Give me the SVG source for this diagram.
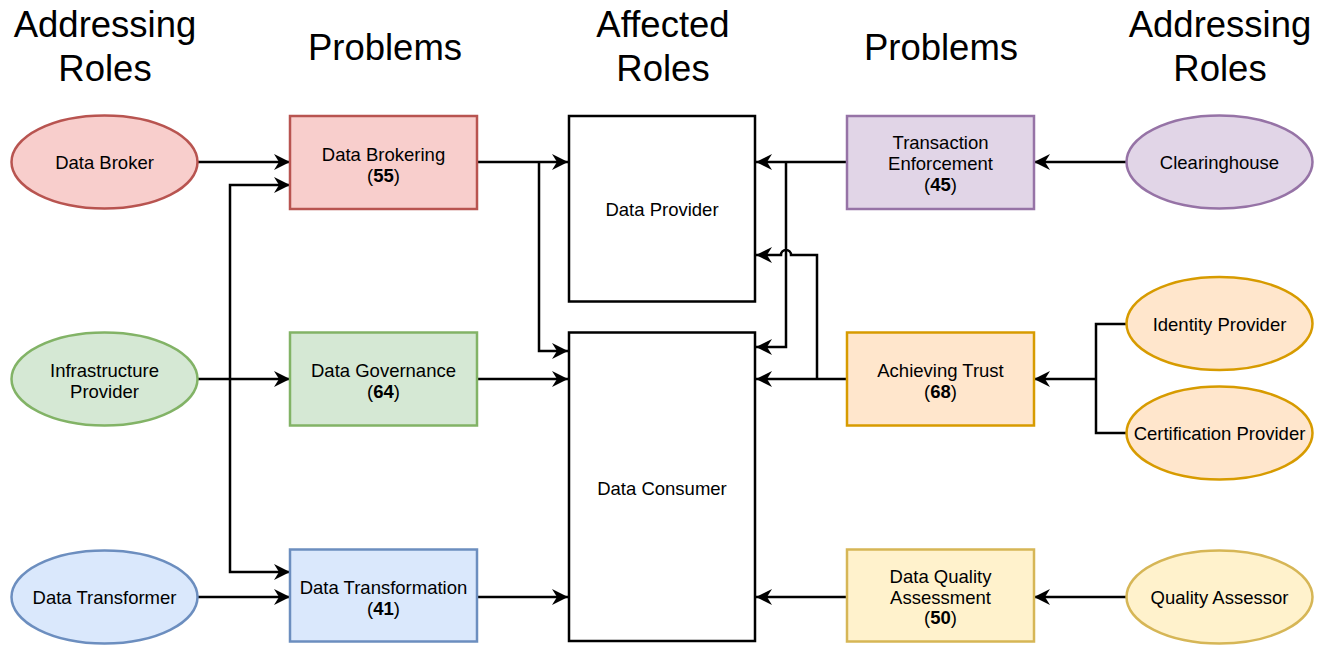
<svg xmlns="http://www.w3.org/2000/svg" width="1320" height="645" viewBox="0 0 1320 645">
  <defs>
    <marker id="arrow" viewBox="0 0 18 18" refX="17" refY="9" markerWidth="18" markerHeight="18" markerUnits="userSpaceOnUse" orient="auto">
      <path d="M17,9 L1,1 L6,9 L1,17 Z" fill="#000"/>
    </marker>
  </defs>
  <style>
    text { font-family: "Liberation Sans", Arial, Helvetica, sans-serif; fill: #000; text-anchor: middle; }
    .head { font-size: 36.5px; }
    .lbl { font-size: 18.5px; }
    .num { font-weight: bold; }
    .edge { fill: none; stroke: #000; stroke-width: 2.5; }
    .arr { marker-end: url(#arrow); }
    .shape { stroke-width: 2.5; }
    .red { fill: #f8cecc; stroke: #b85450; }
    .green { fill: #d5e8d4; stroke: #82b366; }
    .blue { fill: #dae8fc; stroke: #6c8ebf; }
    .purple { fill: #e1d5e7; stroke: #9673a6; }
    .orange { fill: #ffe6cc; stroke: #d79b00; }
    .yellow { fill: #fff2cc; stroke: #d6b656; }
    .plain { fill: #fff; stroke: #000; }
  </style>
  <rect width="1320" height="645" fill="#fff"/>

  <!-- column headings -->
  <g id="headings">
    <text class="head" x="105" y="37">Addressing</text>
    <text class="head" x="105" y="81">Roles</text>
    <text class="head" x="385" y="60">Problems</text>
    <text class="head" x="663" y="37">Affected</text>
    <text class="head" x="663" y="81">Roles</text>
    <text class="head" x="941" y="60">Problems</text>
    <text class="head" x="1220" y="37">Addressing</text>
    <text class="head" x="1220" y="81">Roles</text>
  </g>

  <!-- connectors -->
  <g id="connectors">
    <!-- left roles to problems -->
    <path class="edge arr" d="M198,162 H290"/>
    <path class="edge arr" d="M198,379 H290"/>
    <path class="edge arr" d="M230,379 V185 H290"/>
    <path class="edge arr" d="M230,379 V572 H290"/>
    <path class="edge arr" d="M198,597 H290"/>
    <!-- left problems to affected roles -->
    <path class="edge arr" d="M477,162 H568"/>
    <path class="edge arr" d="M539,162 V351 H568"/>
    <path class="edge arr" d="M477,379 H568"/>
    <path class="edge arr" d="M477,597 H568"/>
    <!-- right problems to affected roles -->
    <path class="edge arr" d="M847,162 H756"/>
    <path class="edge arr" d="M786,162 V347 H756"/>
    <path class="edge arr" d="M847,379 H756"/>
    <path class="edge arr" d="M817,379 V255 H791 A5,5 0 0 0 781,255 H756"/>
    <path class="edge arr" d="M847,597 H756"/>
    <!-- right roles to problems -->
    <path class="edge arr" d="M1126,162 H1034"/>
    <path class="edge" d="M1126,324 H1096 V433 H1126"/>
    <path class="edge arr" d="M1096,379 H1034"/>
    <path class="edge arr" d="M1126,597 H1034"/>
  </g>

  <!-- addressing roles (left) -->
  <g id="data-broker">
    <ellipse class="shape red" cx="104.5" cy="162" rx="93" ry="46.5"/>
    <text class="lbl" x="104.5" y="169">Data Broker</text>
  </g>
  <g id="infrastructure-provider">
    <ellipse class="shape green" cx="104.5" cy="379" rx="93" ry="46.5"/>
    <text class="lbl" x="104.5" y="377">Infrastructure</text>
    <text class="lbl" x="104.5" y="398">Provider</text>
  </g>
  <g id="data-transformer">
    <ellipse class="shape blue" cx="104.5" cy="597" rx="93" ry="46.5"/>
    <text class="lbl" x="104.5" y="604">Data Transformer</text>
  </g>

  <!-- problems (left) -->
  <g id="data-brokering">
    <rect class="shape red" x="290" y="116" width="187" height="93"/>
    <text class="lbl" x="383.5" y="161">Data Brokering</text>
    <text class="lbl" x="383.5" y="182">(<tspan class="num">55</tspan>)</text>
  </g>
  <g id="data-governance">
    <rect class="shape green" x="290" y="332.5" width="187" height="93"/>
    <text class="lbl" x="383.5" y="377">Data Governance</text>
    <text class="lbl" x="383.5" y="398">(<tspan class="num">64</tspan>)</text>
  </g>
  <g id="data-transformation">
    <rect class="shape blue" x="290" y="549.5" width="187" height="92"/>
    <text class="lbl" x="383.5" y="594">Data Transformation</text>
    <text class="lbl" x="383.5" y="615">(<tspan class="num">41</tspan>)</text>
  </g>

  <!-- affected roles -->
  <g id="data-provider">
    <rect class="shape plain" x="569" y="116" width="186" height="185.5"/>
    <text class="lbl" x="662" y="216">Data Provider</text>
  </g>
  <g id="data-consumer">
    <rect class="shape plain" x="569" y="332.5" width="186" height="308.5"/>
    <text class="lbl" x="662" y="495">Data Consumer</text>
  </g>

  <!-- problems (right) -->
  <g id="transaction-enforcement">
    <rect class="shape purple" x="847" y="116" width="187" height="93"/>
    <text class="lbl" x="940.5" y="149">Transaction</text>
    <text class="lbl" x="940.5" y="170">Enforcement</text>
    <text class="lbl" x="940.5" y="191">(<tspan class="num">45</tspan>)</text>
  </g>
  <g id="achieving-trust">
    <rect class="shape orange" x="847" y="332.5" width="187" height="93"/>
    <text class="lbl" x="940.5" y="377">Achieving Trust</text>
    <text class="lbl" x="940.5" y="398">(<tspan class="num">68</tspan>)</text>
  </g>
  <g id="data-quality-assessment">
    <rect class="shape yellow" x="847" y="549.5" width="187" height="92"/>
    <text class="lbl" x="940.5" y="583">Data Quality</text>
    <text class="lbl" x="940.5" y="603.5">Assessment</text>
    <text class="lbl" x="940.5" y="624">(<tspan class="num">50</tspan>)</text>
  </g>

  <!-- addressing roles (right) -->
  <g id="clearinghouse">
    <ellipse class="shape purple" cx="1219.5" cy="162" rx="93" ry="46.5"/>
    <text class="lbl" x="1219.5" y="169">Clearinghouse</text>
  </g>
  <g id="identity-provider">
    <ellipse class="shape orange" cx="1219.5" cy="323.5" rx="93" ry="46.5"/>
    <text class="lbl" x="1219.5" y="330.5">Identity Provider</text>
  </g>
  <g id="certification-provider">
    <ellipse class="shape orange" cx="1219.5" cy="433" rx="93" ry="46.5"/>
    <text class="lbl" x="1219.5" y="440">Certification Provider</text>
  </g>
  <g id="quality-assessor">
    <ellipse class="shape yellow" cx="1219.5" cy="597" rx="93" ry="46.5"/>
    <text class="lbl" x="1219.5" y="604">Quality Assessor</text>
  </g>
</svg>
